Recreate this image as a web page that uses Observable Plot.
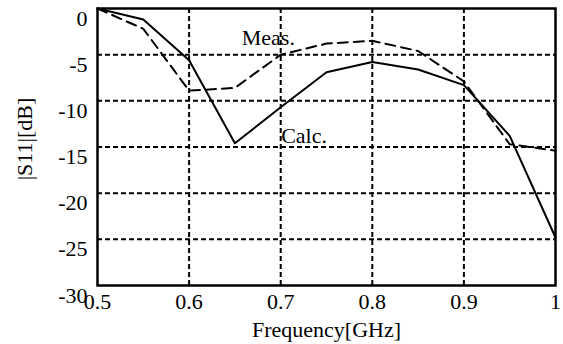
<!DOCTYPE html>
<html>
<head>
<meta charset="utf-8">
<script src="https://cdn.jsdelivr.net/npm/d3@7"></script>
<script src="https://cdn.jsdelivr.net/npm/@observablehq/plot@0.6"></script>
<style>
  html, body { margin: 0; padding: 0; background: #fff; }
</style>
</head>
<body>
<div id="chart"></div>
<script>
const freq = [0.5, 0.55, 0.6, 0.65, 0.7, 0.75, 0.8, 0.85, 0.9, 0.95, 1.0];
const calc = [0, -1.2, -5.6, -14.6, -10.7, -6.9, -5.8, -6.6, -8.3, -13.8, -24.8];
const meas = [0, -2.2, -8.9, -8.6, -5.0, -3.8, -3.5, -4.6, -7.9, -14.7, -15.4];
const xTicks = [0.5, 0.6, 0.7, 0.8, 0.9, 1];
const yTicks = [0, -5, -10, -15, -20, -25, -30];
const xGrid = [0.6, 0.7, 0.8, 0.9];
const yGrid = [-5, -10, -15, -20, -25];
const labels = [
  {x: 0.6575, y: -4.0, text: "Meas."},
  {x: 0.7005, y: -14.6, text: "Calc."}
];

const calcData = freq.map((f, i) => ({f, v: calc[i]}));
const measData = freq.map((f, i) => ({f, v: meas[i]}));
const serif = "Liberation Serif";

const chart = Plot.plot({
  width: 563,
  height: 344,
  marginLeft: 97,
  marginRight: 8,
  marginTop: 8,
  marginBottom: 59,
  style: {fontFamily: serif, fontSize: "22px", background: "#fff", color: "#000"},
  x: {domain: [0.5, 1], ticks: xTicks},
  y: {domain: [-30, 0], ticks: yTicks},
  marks: [
    Plot.gridX(xGrid, {stroke: "#000", strokeOpacity: 1, strokeWidth: 2, strokeDasharray: "5,3"}),
    Plot.gridY(yGrid, {stroke: "#000", strokeOpacity: 1, strokeWidth: 2, strokeDasharray: "5,3"}),
    Plot.axisX(xTicks, {tickSize: 0, tickPadding: 8, tickFormat: d => String(d), fontSize: 22, label: null}),
    Plot.axisY(yTicks, {tickSize: 0, tickPadding: 10, dy: 10, tickFormat: d => String(d), fontSize: 22, label: null}),
    Plot.line(measData, {x: "f", y: "v", stroke: "#000", strokeWidth: 2, strokeDasharray: "10,6"}),
    Plot.line(calcData, {x: "f", y: "v", stroke: "#000", strokeWidth: 2}),
    Plot.text(labels, {x: "x", y: "y", text: "text", textAnchor: "start", lineAnchor: "bottom", fontSize: 22, fill: "#000"}),
    Plot.frame({stroke: "#000", strokeWidth: 2.5}),
    Plot.text(["Frequency[GHz]"], {frameAnchor: "bottom", textAnchor: "middle", dy: 51, lineAnchor: "bottom", fontSize: 22, fill: "#000"}),
    Plot.text(["|S11|[dB]"], {frameAnchor: "left", textAnchor: "middle", dx: -73, dy: -8, rotate: -90, fontSize: 22, fill: "#000"})
  ]
});
d3.select(chart).selectAll("text, tspan, g").attr("font-family", serif).style("font-family", serif);
document.getElementById("chart").appendChild(chart);
</script>
</body>
</html>
